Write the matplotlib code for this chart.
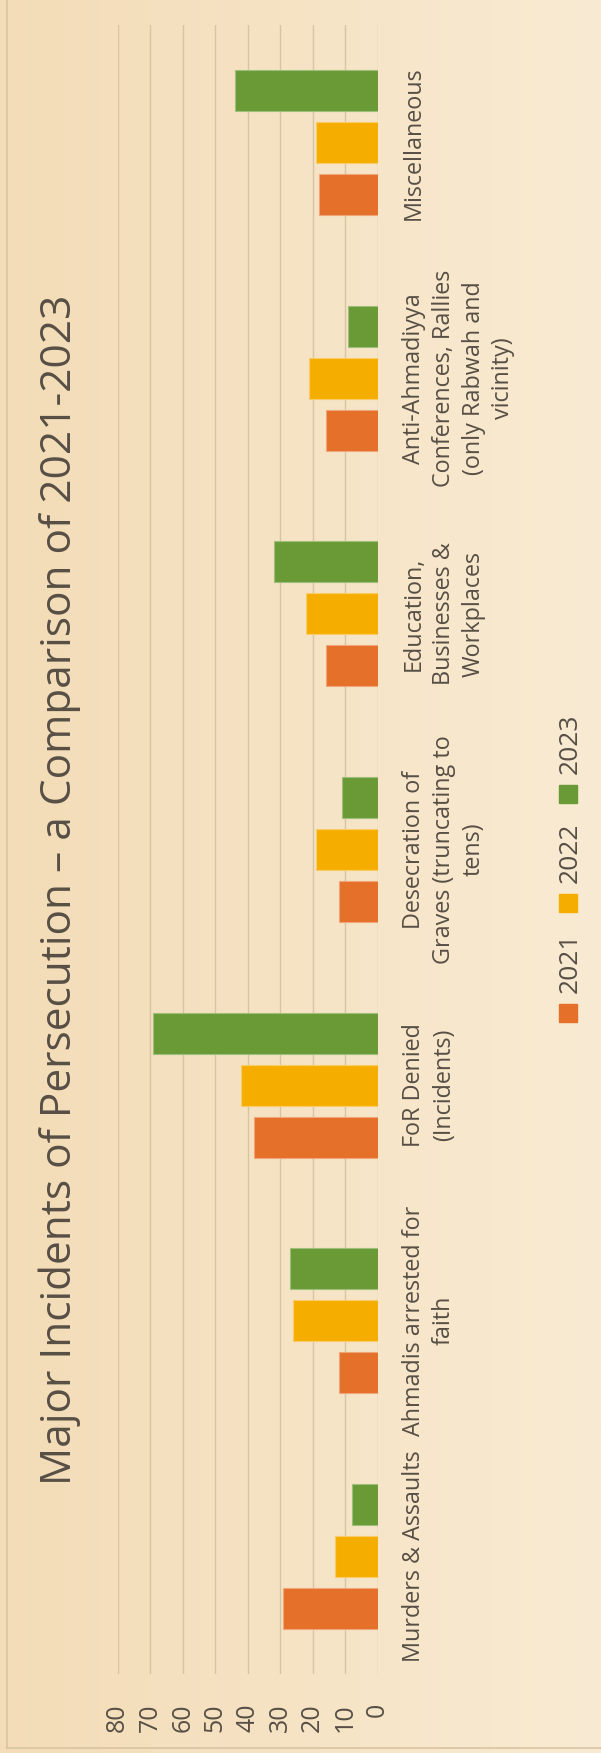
import matplotlib
matplotlib.use("Agg")
import matplotlib.pyplot as plt
import numpy as np
from matplotlib.patches import Rectangle
from matplotlib.colors import LinearSegmentedColormap

plt.rcParams['font.family'] = ['Open Sans', 'DejaVu Sans']

# categories listed bottom -> top as they appear in the rotated chart
categories = [
    "Murders & Assaults",
    "Ahmadis arrested for\nfaith",
    "FoR Denied\n(Incidents)",
    "Desecration of\nGraves (truncating to\ntens)",
    "Education,\nBusinesses &\nWorkplaces",
    "Anti-Ahmadiyya\nConferences, Rallies\n(only Rabwah and\nvicinity)",
    "Miscellaneous",
]
years = ["2021", "2022", "2023"]
values_2021 = [29, 12, 38, 12, 16, 16, 18]
values_2022 = [13, 26, 42, 19, 22, 21, 19]
values_2023 = [8, 27, 69, 11, 32, 9, 44]
ticks = [0, 10, 20, 30, 40, 50, 60, 70, 80]
title = "Major Incidents of Persecution \u2013 a Comparison of 2021-2023"

colors = ['#E4702A', '#F5AE00', '#6A9A36']
edges = ['#F1A679', '#F9CC6A', '#9DBF79']
txt = '#574F45'
grid_c = '#D6C4A3'

W, H = 601, 1753
fig = plt.figure(figsize=(W / 100, H / 100), dpi=100)

# background gradient + chart border
bg = fig.add_axes([0, 0, 1, 1], zorder=-10)
cmap = LinearSegmentedColormap.from_list('bg', ['#F3DCB7', '#F9EBD3'])
bg.imshow(np.linspace(0, 1, 256)[None, :], aspect='auto', cmap=cmap,
          extent=[0, 1, 0, 1])
bg.plot([7 / W, 7 / W], [5 / H, 1], color='#D8C4A2', lw=1.2)
bg.plot([7 / W, 1], [5 / H, 5 / H], color='#D8C4A2', lw=1.2)
bg.set_xlim(0, 1)
bg.set_ylim(0, 1)
bg.set_axis_off()

# plot area (value axis runs right -> left)
ax = fig.add_axes([117.7 / W, 1 - 1674 / H, 260 / W, 1649 / H])
ax.patch.set_alpha(0)

y = np.arange(len(categories))
step = 0.2207
bar_h = 0.174
for i, vals in enumerate([values_2021, values_2022, values_2023]):
    ax.barh(y + (i - 1) * step, vals, height=bar_h, color=colors[i],
            edgecolor=edges[i], linewidth=0.8, zorder=3)

ax.set_xlim(80, 0)
ax.set_ylim(-0.5, len(categories) - 0.5)
ax.set_xticks(ticks)
ax.set_xticklabels([str(t) for t in ticks], rotation=90, fontsize=18, color=txt)
ax.tick_params(axis='x', length=0, pad=21)
ax.set_yticks([])
ax.grid(axis='x', color=grid_c, lw=1.0, zorder=0)
for s in ax.spines.values():
    s.set_visible(False)

for yi, lab in zip(y, categories):
    ax.text(1.0935, yi, lab, transform=ax.get_yaxis_transform(), rotation=90,
            ha='left', va='center', multialignment='center', fontsize=16.8,
            color=txt, linespacing=1.32)

# title
fig.text(60 / W, 1 - 890 / H, title, rotation=90, ha='center', va='center',
         fontsize=30.5, color=txt)

# legend, drawn by hand since it is rotated too
marker_bottoms = [1022, 912, 803]
for i, yr in enumerate(years):
    mb = marker_bottoms[i]
    fig.add_artist(Rectangle((559 / W, 1 - mb / H), 18 / W, 18 / H,
                             transform=fig.transFigure, color=colors[i]))
    fig.text(570 / W, 1 - (mb - 29) / H, yr, rotation=90, ha='center',
             va='bottom', fontsize=19, color=txt)

fig.savefig('out.png', dpi=100)
